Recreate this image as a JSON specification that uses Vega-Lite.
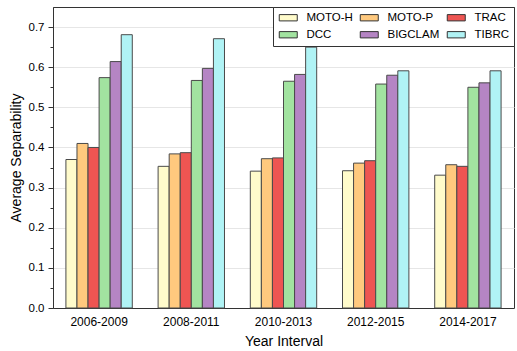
{
  "$schema": "https://vega.github.io/schema/vega-lite/v6.json",
  "width": 461,
  "height": 301,
  "autosize": "none",
  "padding": {"left": 53, "top": 7, "right": 3, "bottom": 43},
  "background": "white",
  "config": {
    "font": "Liberation Sans",
    "view": {"stroke": "#333333", "strokeWidth": 1},
    "legend": {"gridAlign": "none"}
  },
  "data": {
    "values": [
      {"interval": "2006-2009", "method": "MOTO-H", "value": 0.370},
      {"interval": "2006-2009", "method": "MOTO-P", "value": 0.410},
      {"interval": "2006-2009", "method": "TRAC", "value": 0.400},
      {"interval": "2006-2009", "method": "DCC", "value": 0.574},
      {"interval": "2006-2009", "method": "BIGCLAM", "value": 0.614},
      {"interval": "2006-2009", "method": "TIBRC", "value": 0.681},
      {"interval": "2008-2011", "method": "MOTO-H", "value": 0.353},
      {"interval": "2008-2011", "method": "MOTO-P", "value": 0.384},
      {"interval": "2008-2011", "method": "TRAC", "value": 0.387},
      {"interval": "2008-2011", "method": "DCC", "value": 0.567},
      {"interval": "2008-2011", "method": "BIGCLAM", "value": 0.597},
      {"interval": "2008-2011", "method": "TIBRC", "value": 0.671},
      {"interval": "2010-2013", "method": "MOTO-H", "value": 0.341},
      {"interval": "2010-2013", "method": "MOTO-P", "value": 0.372},
      {"interval": "2010-2013", "method": "TRAC", "value": 0.374},
      {"interval": "2010-2013", "method": "DCC", "value": 0.565},
      {"interval": "2010-2013", "method": "BIGCLAM", "value": 0.582},
      {"interval": "2010-2013", "method": "TIBRC", "value": 0.650},
      {"interval": "2012-2015", "method": "MOTO-H", "value": 0.342},
      {"interval": "2012-2015", "method": "MOTO-P", "value": 0.361},
      {"interval": "2012-2015", "method": "TRAC", "value": 0.367},
      {"interval": "2012-2015", "method": "DCC", "value": 0.558},
      {"interval": "2012-2015", "method": "BIGCLAM", "value": 0.580},
      {"interval": "2012-2015", "method": "TIBRC", "value": 0.591},
      {"interval": "2014-2017", "method": "MOTO-H", "value": 0.331},
      {"interval": "2014-2017", "method": "MOTO-P", "value": 0.357},
      {"interval": "2014-2017", "method": "TRAC", "value": 0.353},
      {"interval": "2014-2017", "method": "DCC", "value": 0.550},
      {"interval": "2014-2017", "method": "BIGCLAM", "value": 0.561},
      {"interval": "2014-2017", "method": "TIBRC", "value": 0.591}
    ]
  },
  "mark": {"type": "bar", "stroke": "#4a4a4a", "strokeWidth": 1},
  "encoding": {
    "x": {
      "field": "interval",
      "type": "nominal",
      "scale": {"paddingInner": 0.28, "paddingOuter": 0.14},
      "axis": {
        "title": "Year Interval",
        "titleFontSize": 14,
        "titleFontWeight": "normal",
        "titleColor": "black",
        "titlePadding": 7,
        "labelAngle": 0,
        "labelFontSize": 12,
        "labelColor": "black",
        "labelPadding": 13,
        "tickSize": -5,
        "tickColor": "#333333",
        "domainColor": "#333333",
        "grid": false
      }
    },
    "xOffset": {
      "field": "method",
      "type": "nominal",
      "sort": ["MOTO-H", "MOTO-P", "TRAC", "DCC", "BIGCLAM", "TIBRC"]
    },
    "y": {
      "field": "value",
      "type": "quantitative",
      "scale": {"domain": [0, 0.75], "nice": false},
      "axis": {
        "title": "Average Separability",
        "titleFontSize": 14,
        "titleFontWeight": "normal",
        "titleColor": "black",
        "titlePadding": 5,
        "values": [0, 0.05, 0.1, 0.15, 0.2, 0.25, 0.3, 0.35, 0.4, 0.45, 0.5, 0.55, 0.6, 0.65, 0.7],
        "labelExpr": "abs(datum.value*10 - round(datum.value*10)) > 0.01 ? '' : format(datum.value, '.1f')",
        "labelFontSize": 11.5,
        "labelColor": "black",
        "labelPadding": 4,
        "tickSize": {"condition": {"test": "abs(datum.value*10 - round(datum.value*10)) > 0.01", "value": 3}, "value": 5},
        "tickColor": "#333333",
        "domainColor": "#333333",
        "grid": true,
        "gridColor": "#e6e6e6",
        "gridOpacity": {"condition": {"test": "abs(datum.value*10 - round(datum.value*10)) > 0.01", "value": 0}, "value": 1}
      }
    },
    "color": {
      "field": "method",
      "type": "nominal",
      "sort": ["MOTO-H", "MOTO-P", "TRAC", "DCC", "BIGCLAM", "TIBRC"],
      "scale": {
        "domain": ["MOTO-H", "MOTO-P", "TRAC", "DCC", "BIGCLAM", "TIBRC"],
        "range": ["#FFFBCB", "#FFC97E", "#EE5552", "#A2E3A0", "#B585C4", "#B0F3F5"]
      },
      "legend": {
        "title": null,
        "orient": "top-right",
        "offset": 0,
        "direction": "horizontal",
        "columns": 3,
        "gridAlign": "none",
        "columnPadding": 5,
        "rowPadding": 4,
        "padding": 5,
        "strokeColor": "#333333",
        "fillColor": "white",
        "symbolType": "M-1,-0.7H3V0.7H-1Z",
        "symbolSize": 81,
        "symbolStrokeColor": "#333333",
        "symbolStrokeWidth": 1,
        "symbolOpacity": 1,
        "labelFontSize": 11.5,
        "labelColor": "black",
        "labelOffset": 17
      }
    }
  }
}
